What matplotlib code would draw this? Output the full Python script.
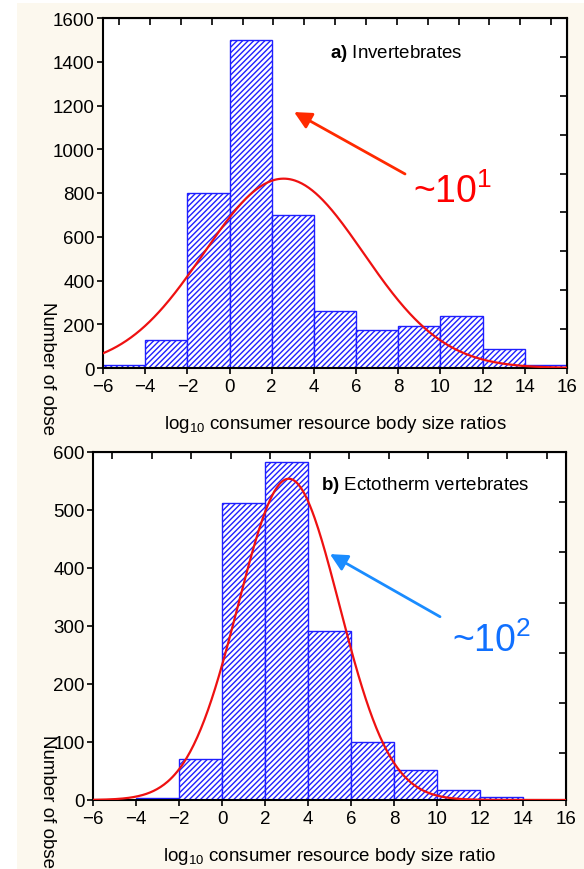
import numpy as np
import matplotlib
matplotlib.use("Agg")
import matplotlib.pyplot as plt
from matplotlib.patches import Rectangle

plt.rcParams['font.family'] = ['Liberation Sans', 'DejaVu Sans']
plt.rcParams['mathtext.fontset'] = 'custom'
plt.rcParams['mathtext.rm'] = 'Liberation Sans'
plt.rcParams['mathtext.it'] = 'Liberation Sans:italic'
plt.rcParams['mathtext.bf'] = 'Liberation Sans:bold'
plt.rcParams['hatch.color'] = '#3a4ef0'
plt.rcParams['hatch.linewidth'] = 1.0

# histogram bins (log10 consumer/resource body size ratio)
bin_edges = [-6, -4, -2, 0, 2, 4, 6, 8, 10, 12, 14, 16]
invert_counts = [15, 130, 800, 1500, 700, 260, 175, 190, 240, 85, 15]
ecto_counts = [0, 3, 70, 512, 583, 292, 100, 51, 18, 6, 0]

x_ticks = [-6, -4, -2, 0, 2, 4, 6, 8, 10, 12, 14, 16]
invert_yticks = [0, 200, 400, 600, 800, 1000, 1200, 1400, 1600]
ecto_yticks = [0, 100, 200, 300, 400, 500, 600]

CREAM = '#fcf8ee'
BAR_EDGE = '#1f1fff'
FIT_RED = '#ee1111'


def normal_fit(counts, edges, xs):
    # expected counts from a normal fitted to the binned data
    edges = np.asarray(edges, float)
    counts = np.asarray(counts, float)
    mids = (edges[:-1] + edges[1:]) / 2
    width = edges[1] - edges[0]
    n = counts.sum()
    mu = (counts * mids).sum() / n
    var = (counts * (mids - mu) ** 2).sum() / n - width ** 2 / 12
    sd = np.sqrt(var)
    return n * width / (sd * np.sqrt(2 * np.pi)) * np.exp(-(xs - mu) ** 2 / (2 * sd ** 2))


def draw_panel(ax, counts, yticks, xlabel, top_frac, right_frac):
    edges = np.asarray(bin_edges, float)
    ax.bar(edges[:-1], counts, width=np.diff(edges), align='edge',
           facecolor='white', edgecolor=BAR_EDGE, linewidth=1.0,
           hatch='//////', zorder=2)
    xs = np.linspace(bin_edges[0], bin_edges[-1], 400)
    ax.plot(xs, normal_fit(counts, bin_edges, xs), color=FIT_RED, lw=1.6, zorder=3)

    ax.set_xlim(bin_edges[0], bin_edges[-1])
    ax.set_ylim(yticks[0], yticks[-1])
    ax.set_xticks(x_ticks)
    ax.set_yticks(yticks)
    ax.tick_params(direction='out', length=4, width=1.2, labelsize=13.5, pad=2)
    ax.tick_params(axis='x', pad=3)
    ax.set_xlabel(xlabel, fontsize=13.5, labelpad=13)
    for s in ax.spines.values():
        s.set_linewidth(1.5)

    x0, x1 = bin_edges[0], bin_edges[-1]
    y1 = yticks[-1]
    top = ax.secondary_xaxis('top', functions=(lambda v: (v - x0) / (x1 - x0),
                                               lambda t: x0 + t * (x1 - x0)))
    top.set_xticks(top_frac)
    top.tick_params(direction='in', length=5, width=1.2, labeltop=False)
    right = ax.secondary_yaxis('right', functions=(lambda v: v / y1, lambda t: t * y1))
    right.set_yticks(right_frac)
    right.tick_params(direction='in', length=5, width=1.2, labelright=False)


fig = plt.figure(figsize=(5.84, 8.70), dpi=100, facecolor='white')
fig.patches.append(Rectangle((17 / 584, 0), 1 - 17 / 584, 1 - 4 / 870,
                             transform=fig.transFigure, facecolor=CREAM,
                             edgecolor='none', zorder=-10))

ax1 = fig.add_axes([103 / 584, 1 - 369 / 870, 464 / 584, 350 / 870])
draw_panel(ax1, invert_counts, invert_yticks,
           r'log$_{10}$ consumer resource body size ratios',
           [(16.3 + 30.84 * k) / 464 for k in range(15)],
           [k / 9 for k in range(1, 9)])
ax1.text(4.76, 1422, r'$\bf{a)}$ Invertebrates', fontsize=13.5)
ax1.annotate('', xy=(3.06, 1170), xytext=(8.32, 887),
             arrowprops=dict(arrowstyle='-|>', color='#ff2a00', lw=2,
                             mutation_scale=26, shrinkA=0, shrinkB=0))
ax1.text(8.70, 759, r'~10$^{1}$', color='#ff0000', fontsize=27)

ax2 = fig.add_axes([93 / 584, 1 - 801 / 870, 473 / 584, 348 / 870])
draw_panel(ax2, ecto_counts, ecto_yticks,
           r'log$_{10}$ consumer resource body size ratio',
           [(19 + 39.5 * k) / 473 for k in range(12)],
           [1 - 50.2 * k / 348 for k in range(1, 7)])
ax2.text(4.60, 536, r'$\bf{b)}$ Ectotherm vertebrates', fontsize=13.5)
ax2.annotate('', xy=(5.02, 424), xytext=(10.14, 316),
             arrowprops=dict(arrowstyle='-|>', color='#1a8cff', lw=2,
                             mutation_scale=26, shrinkA=0, shrinkB=0))
ax2.text(10.70, 257, r'~10$^{2}$', color='#1070ff', fontsize=27)

fig.text(47 / 584, 1 - 369 / 870, 'Number of obse', rotation=270,
         ha='center', va='center', fontsize=13.5)
fig.text(47 / 584, 1 - 735 / 870, 'Number of obse', rotation=270,
         ha='center', va='top', fontsize=13.5)

fig.savefig('out.png', dpi=100, facecolor=fig.get_facecolor())
